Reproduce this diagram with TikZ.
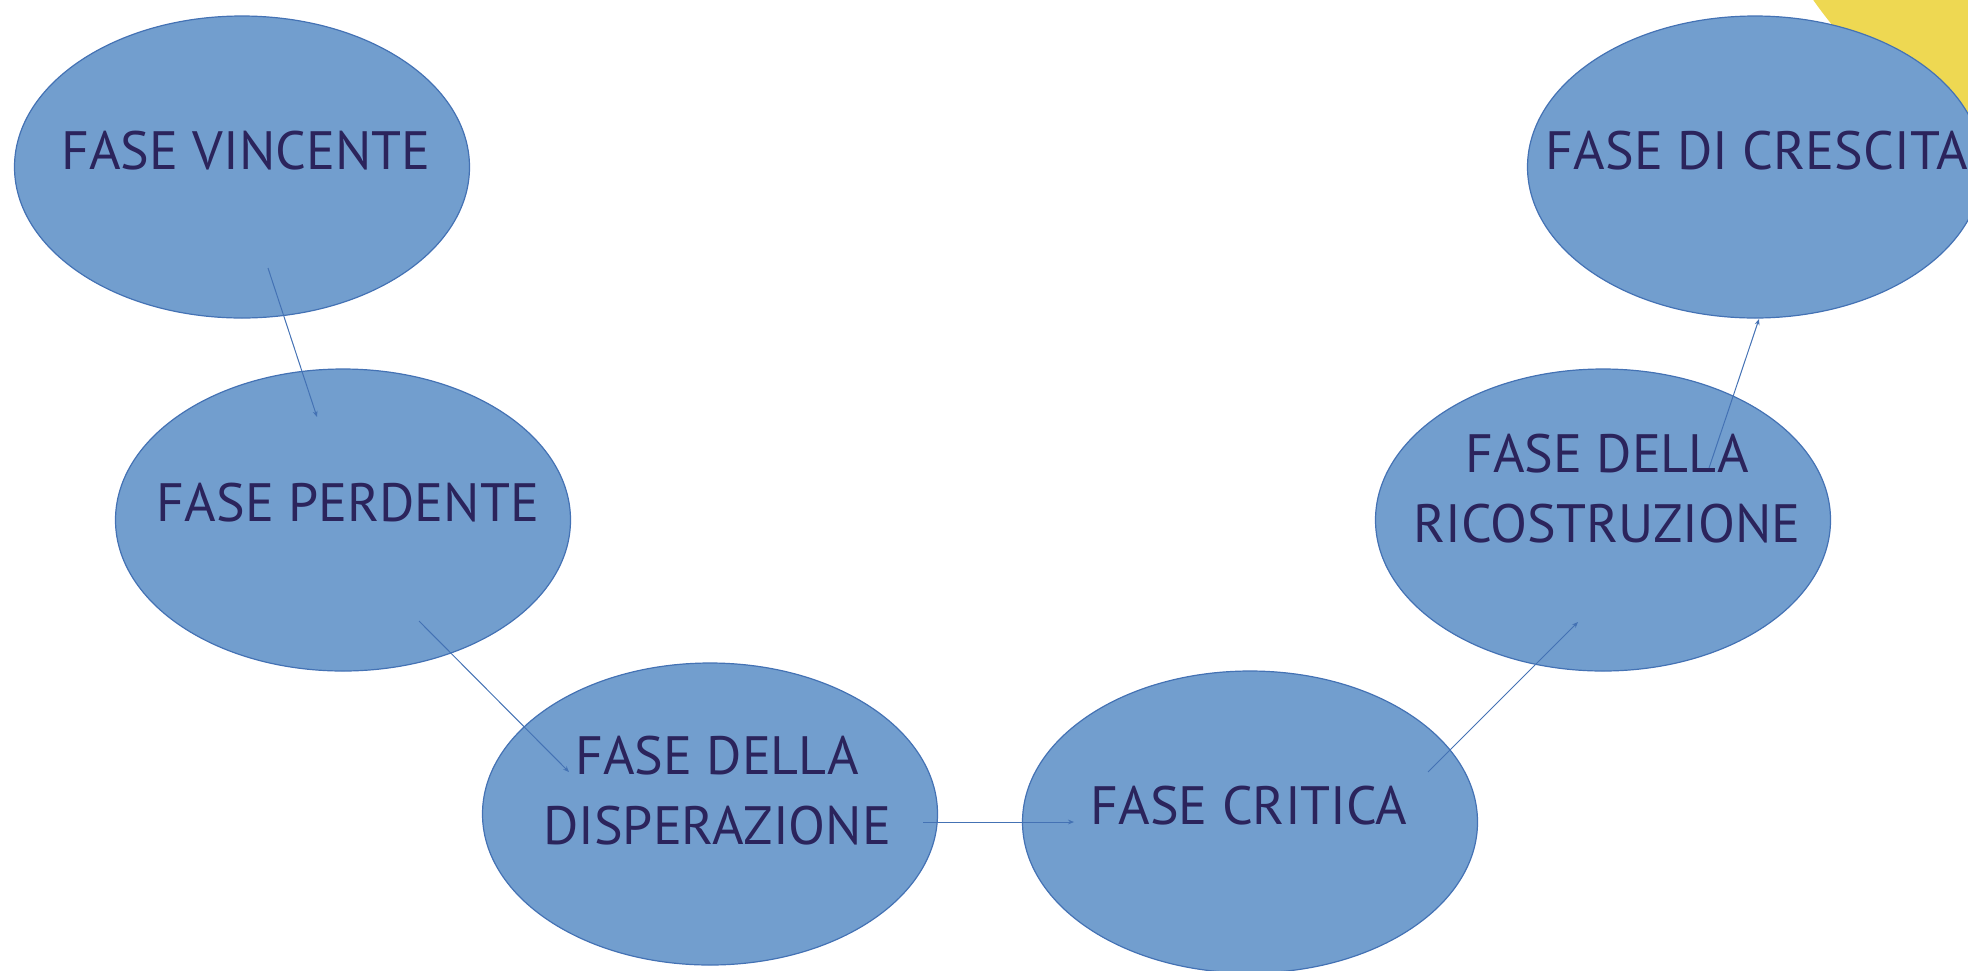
\documentclass[tikz,border=0pt]{standalone}
\usepackage{fontspec}
\setmainfont{PT Sans}
\usepackage{xcolor}
\usetikzlibrary{shapes.geometric,arrows.meta,calc}
\definecolor{phasefill}{RGB}{114,158,206}
\definecolor{phaseborder}{RGB}{68,114,180}
\definecolor{phaseink}{RGB}{43,36,92}
\definecolor{sunyellow}{RGB}{238,216,82}

\begin{document}
\begin{tikzpicture}[
    x=0.5pt, y=-0.5pt,
    phase/.style={ellipse, draw=phaseborder, fill=phasefill, line width=0.6pt, minimum width=227.5pt, minimum height=151pt, inner sep=0pt},
    phasetext/.style={text=phaseink, align=center, inner sep=0pt, font=\fontsize{27}{35}\selectfont},
    link/.style={-{Stealth[length=3pt,width=2.4pt]}, line width=0.5pt, color=phaseborder}
]
\clip (0,0) rectangle (1968,970);

% Background decoration
\fill[sunyellow] (2163,-245) circle[radius=427];

% Phases
\node[phase] (vincente) at (242,167) {};
\node[phase] (perdente) at (343,520) {};
\node[phase] (disperazione) at (710,814) {};
\node[phase] (critica) at (1250,822) {};
\node[phase] (ricostruzione) at (1603,520) {};
\node[phase] (crescita) at (1755,167) {};

% Links
\draw[link] ($(vincente)+(26,101)$) -- ($(perdente)+(-26,-103)$);
\draw[link] ($(perdente)+(76,101)$) -- ($(disperazione)+(-141,-42)$);
\draw[link] ($(disperazione)+(213,8)$) -- ($(critica)+(-176,0)$);
\draw[link] ($(critica)+(178,-50)$) -- ($(ricostruzione)+(-25,102)$);
\draw[link] ($(ricostruzione)+(106,-52)$) -- ($(crescita)+(4,152)$);

% Labels
\node[phasetext] (vincentetext) at ($(vincente)+(4,-16)$) {FASE VINCENTE};
\node[phasetext] (perdentetext) at ($(perdente)+(5,-17)$) {FASE PERDENTE};
\node[phasetext] (disperazionetext) at ($(disperazione)+(7,-23)$) {FASE DELLA\\DISPERAZIONE};
\node[phasetext] (criticatext) at ($(critica)+(-1,-16)$) {FASE CRITICA};
\node[phasetext] (ricostruzionetext) at ($(ricostruzione)+(4,-31)$) {FASE DELLA\\RICOSTRUZIONE};
\node[phasetext] (crescitatext) at ($(crescita)+(2,-16)$) {FASE DI CRESCITA};

\end{tikzpicture}
\end{document}
